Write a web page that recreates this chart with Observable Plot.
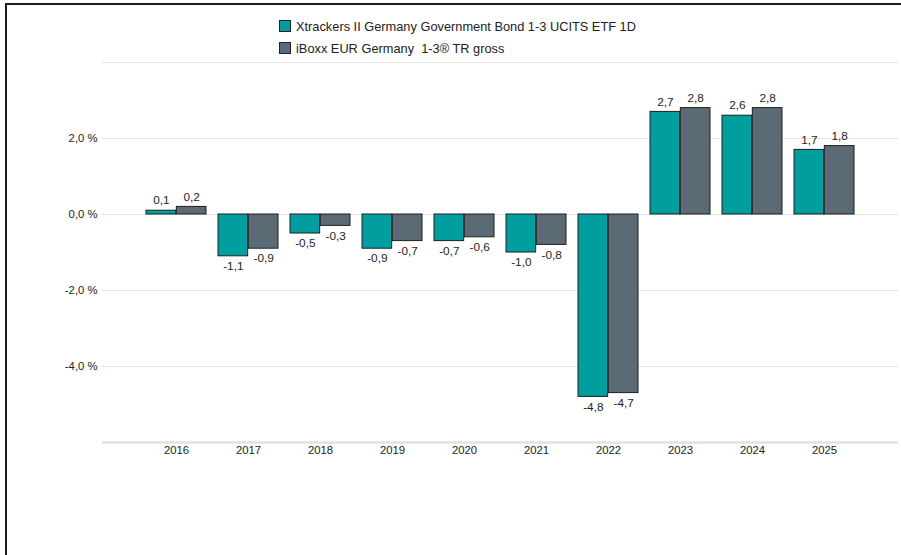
<!DOCTYPE html>
<html>
<head>
<meta charset="utf-8">
<script src="https://cdn.jsdelivr.net/npm/d3@7"></script>
<script src="https://cdn.jsdelivr.net/npm/@observablehq/plot@0.6"></script>
<style>
  html, body { margin: 0; padding: 0; background: #fff; overflow: hidden; width: 901px; height: 555px; }
  body { position: relative; font-family: "Liberation Sans", Arial, Helvetica, sans-serif; }
  #frame { position: absolute; left: 5px; top: 3px; width: 1000px; height: 700px; border: 2px solid #1e1e1e; box-sizing: border-box; }
  #legend { position: absolute; left: 279px; top: 15px; font-size: 12.8px; color: #222; }
  .item { display: flex; align-items: center; height: 22px; white-space: pre; }
  .sw { width: 10px; height: 10px; border: 1px solid #222; margin-right: 5px; }
  #chart { position: absolute; left: 0; top: 56px; }
</style>
</head>
<body>
<div id="frame"></div>
<div id="legend"></div>
<div id="chart"></div>
<script>
const years = ["2016","2017","2018","2019","2020","2021","2022","2023","2024","2025"];
const seriesNames = ["Xtrackers II Germany Government Bond 1-3 UCITS ETF 1D", "iBoxx EUR Germany  1-3® TR gross"];
const fundValues = [0.1, -1.1, -0.5, -0.9, -0.7, -1.0, -4.8, 2.7, 2.6, 1.7];
const indexValues = [0.2, -0.9, -0.3, -0.7, -0.6, -0.8, -4.7, 2.8, 2.8, 1.8];
const colors = ["#009e9e", "#5b6b76"];
const yTickLabels = [-4, -2, 0, 2];
const gridValues = [-6, -4, -2, 0, 2, 4];

const fundData = years.map((y, i) => ({year: y, value: fundValues[i]}));
const indexData = years.map((y, i) => ({year: y, value: indexValues[i]}));

const fmt = v => v.toFixed(1).replace(".", ",");
const fmtPct = v => v.toFixed(1).replace(".", ",") + " %";

// legend
const legend = document.getElementById("legend");
seriesNames.forEach((name, i) => {
  const it = document.createElement("div");
  it.className = "item";
  const sw = document.createElement("span");
  sw.className = "sw";
  sw.style.background = colors[i];
  const t = document.createElement("span");
  t.textContent = name;
  it.appendChild(sw); it.appendChild(t);
  legend.appendChild(it);
});

const W = 901, H = 499;
const mL = 102, mR = 3;
const xPadInner = 0.16, xPadOuter = 0.59;
const step = (W - mL - mR) / (years.length - xPadInner + 2 * xPadOuter);
const bw = step * (1 - xPadInner);
const half = bw / 2;
const q = half / 2;

const pos = arr => arr.filter(d => d.value >= 0);
const neg = arr => arr.filter(d => d.value < 0);
const textStyle = {x: "year", y: "value", text: d => fmt(d.value), fill: "#1e1e1e", fontSize: 11.8};

const chart = Plot.plot({
  width: W,
  height: H,
  marginLeft: mL,
  marginRight: mR,
  marginTop: 6,
  marginBottom: 113,
  style: {fontFamily: '"Liberation Sans", Arial, Helvetica, sans-serif', fontSize: "11px", color: "#222", background: "transparent"},
  x: {domain: years, paddingInner: xPadInner, paddingOuter: xPadOuter, label: null, axis: null},
  y: {domain: [-6, 4], label: null, axis: null},
  marks: [
    Plot.ruleY(gridValues.filter(v => v !== -6), {stroke: "#e4e4e4", strokeWidth: 1}),
    Plot.ruleY([-6], {stroke: "#e2e2e2", strokeWidth: 2.5}),
    Plot.axisY(yTickLabels, {tickSize: 0, tickPadding: 5, tickFormat: fmtPct, label: null, fill: "#222", fontSize: 11.3}),
    Plot.axisX({tickSize: 0, tickPadding: 3, label: null, fill: "#222", fontSize: 11.3}),
    Plot.barY(fundData, {x: "year", y: "value", fill: colors[0], stroke: "#1e1e1e", strokeWidth: 1, insetRight: half}),
    Plot.barY(indexData, {x: "year", y: "value", fill: colors[1], stroke: "#1e1e1e", strokeWidth: 1, insetLeft: half}),
    Plot.text(pos(fundData), {...textStyle, dx: -q, dy: -10}),
    Plot.text(neg(fundData), {...textStyle, dx: -q, dy: 10}),
    Plot.text(pos(indexData), {...textStyle, dx: q, dy: -10}),
    Plot.text(neg(indexData), {...textStyle, dx: q, dy: 10})
  ]
});
document.getElementById("chart").appendChild(chart);
</script>
</body>
</html>
